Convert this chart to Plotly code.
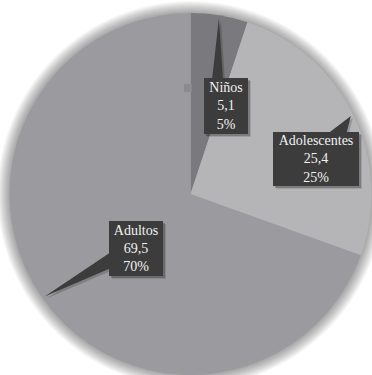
import math
import plotly.graph_objects as go

# Population by age group
groups = ["Niños", "Adolescentes", "Adultos"]
values = [5.1, 25.4, 69.5]
value_labels = ["5,1", "25,4", "69,5"]
percent_labels = ["5%", "25%", "70%"]
slice_colors = ["#7a7a7e", "#b5b5b8", "#9b9b9f"]

W, H = 372, 375
PIE_LEFT, PIE_TOP = 9, 13          # pixel offsets of the pie domain
BOX = "#3c3c3c"
FONT = "Liberation Serif, Times New Roman, DejaVu Serif, serif"


def px(x):
    return x / W


def py(y):
    return 1 - y / H


# pie geometry in pixels (plotly centres the pie in its domain)
dom_w, dom_h = W - PIE_LEFT, H - PIE_TOP
cx = PIE_LEFT + dom_w / 2
cy = PIE_TOP + dom_h / 2
r = min(dom_w, dom_h) / 2

fig = go.Figure(go.Pie(
    labels=groups,
    values=values,
    sort=False,
    direction="clockwise",
    rotation=0,
    marker=dict(colors=slice_colors, line=dict(width=0)),
    textinfo="none",
    hoverinfo="label+value+percent",
    domain=dict(x=[PIE_LEFT / W, 1], y=[0, 1 - PIE_TOP / H]),
))

shapes = []

# soft glow around the pie
for i in range(1, 13):
    R = r + i
    shapes.append(dict(
        type="circle", xref="paper", yref="paper", layer="below",
        x0=px(cx - R), x1=px(cx + R), y0=py(cy + R), y1=py(cy - R),
        fillcolor="rgba(0,0,0,0.03)", line=dict(width=0),
    ))

# label boxes (pixel extents) and the base of each callout pointer
boxes = [(204, 78, 248, 134), (273, 132, 359, 186), (109, 221, 163, 276)]
bases = [((212, 80), (223, 80)), ((326, 135), (346, 135)), ((111, 252), (111, 268))]

total = sum(values)
cum = 0.0
tips = []
for v in values:
    theta = 2 * math.pi * (cum + v / 2) / total
    cum += v
    k = 0.985 * r
    tips.append((cx + k * math.sin(theta), cy - k * math.cos(theta)))


def tri_path(b1, tip, b2, dx=0, dy=0):
    pts = [b1, tip, b2]
    s = "M {} {}".format(px(pts[0][0] + dx), py(pts[0][1] + dy))
    for p in pts[1:]:
        s += " L {} {}".format(px(p[0] + dx), py(p[1] + dy))
    return s + " Z"


# shadows of pointers and boxes
for (b1, b2), tip, (x0, y0, x1, y1) in zip(bases, tips, boxes):
    shapes.append(dict(type="path", xref="paper", yref="paper", layer="above",
                       path=tri_path(b1, tip, b2, 2, 2),
                       fillcolor="rgba(0,0,0,0.18)", line=dict(width=0)))
    for off, a in ((3, 0.12), (2, 0.22)):
        shapes.append(dict(type="rect", xref="paper", yref="paper", layer="above",
                           x0=px(x0 + off), x1=px(x1 + off),
                           y0=py(y1 + off), y1=py(y0 + off),
                           fillcolor="rgba(0,0,0,{})".format(a), line=dict(width=0)))

# callout pointers
for (b1, b2), tip in zip(bases, tips):
    shapes.append(dict(type="path", xref="paper", yref="paper", layer="above",
                       path=tri_path(b1, tip, b2),
                       fillcolor=BOX, line=dict(width=0)))

# small marker square
shapes.append(dict(type="rect", xref="paper", yref="paper", layer="above",
                   x0=px(184), x1=px(192), y0=py(92), y1=py(84),
                   fillcolor="#8b8b8f", line=dict(width=0)))

annotations = []
for g, vl, pl, (x0, y0, x1, y1) in zip(groups, value_labels, percent_labels, boxes):
    annotations.append(dict(
        xref="paper", yref="paper",
        x=px((x0 + x1) / 2), y=py((y0 + y1) / 2),
        xanchor="center", yanchor="middle",
        width=x1 - x0, height=y1 - y0,
        text="{}<br>{}<br>{}".format(g, vl, pl),
        showarrow=False, align="center", valign="middle",
        bgcolor=BOX, borderpad=0, borderwidth=0,
        font=dict(family=FONT, size=14, color="#f2f2f2"),
    ))

fig.update_layout(
    width=W, height=H,
    margin=dict(l=0, r=0, t=0, b=0),
    paper_bgcolor="white",
    plot_bgcolor="white",
    showlegend=False,
    shapes=shapes,
    annotations=annotations,
)

fig.write_html("out.html")
